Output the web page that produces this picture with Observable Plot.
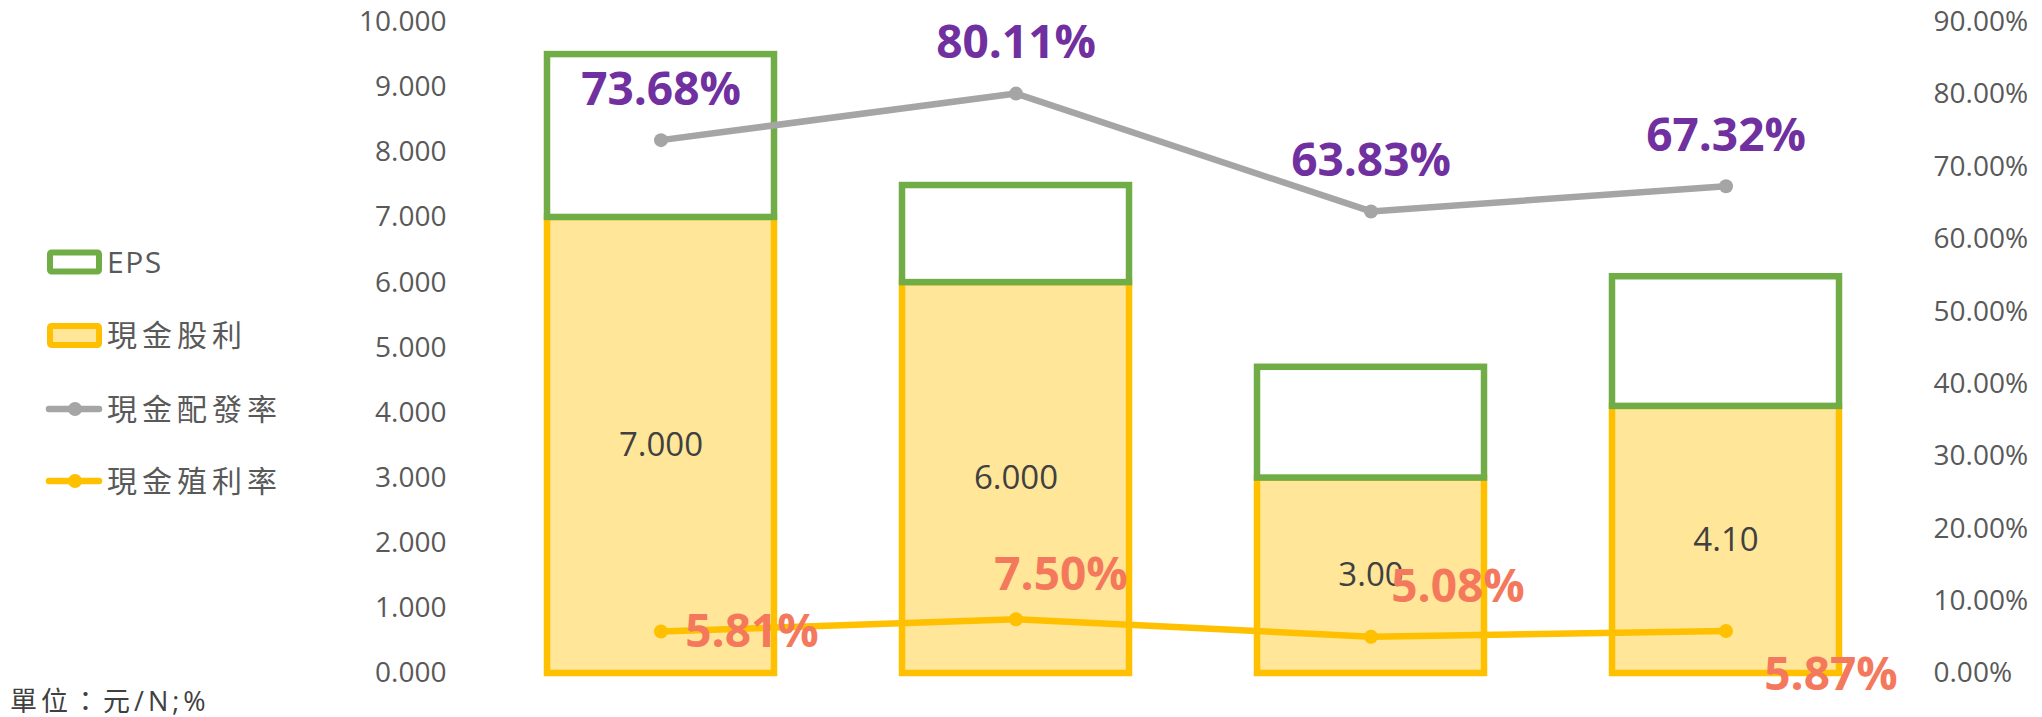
<!DOCTYPE html>
<html>
<head>
<meta charset="utf-8">
<script src="https://cdn.jsdelivr.net/npm/d3@7"></script>
<script src="https://cdn.jsdelivr.net/npm/@observablehq/plot@0.6"></script>
<style>
  html, body { margin: 0; padding: 0; background: #fff; }
  #wrap { position: relative; width: 2042px; height: 717px; overflow: hidden;
          font-family: "Open Sans", "Noto Sans CJK TC", sans-serif; }
  #legend { position: absolute; left: 0; top: 0; }
  #unit { position: absolute; left: 10px; top: 686px; font-size: 27px; line-height: 30px;
          color: #404040; letter-spacing: 4px; white-space: nowrap; }
</style>
</head>
<body>
<div id="wrap"></div>
<script>
// ---- data ----
const periods = ["第1期", "第2期", "第3期", "第4期"];
const eps = [9.50, 7.49, 4.70, 6.09];
const cashDividend = [7.0, 6.0, 3.0, 4.1];
const dividendLabels = ["7.000", "6.000", "3.00", "4.10"];
const payoutRatio = [73.68, 80.11, 63.83, 67.32];
const yieldRate = [5.81, 7.50, 5.08, 5.87];
const leftTicks = [0, 1, 2, 3, 4, 5, 6, 7, 8, 9, 10];
const rightTicks = [0, 10, 20, 30, 40, 50, 60, 70, 80, 90];
const legendLabels = ["EPS", "現金股利", "現金配發率", "現金殖利率"];
const unitCaption = "單位：元/N;%";

// ---- layout (not data) ----
const yieldLabelOffsets = [[91, 1], [45, -44], [87, -49], [105, 44]];
const FONT = '"Open Sans", "Noto Sans CJK TC", sans-serif';
const k = leftTicks[leftTicks.length - 1] / rightTicks[rightTicks.length - 1]; // % -> left units

const table = periods.map((p, i) => ({
  period: p, eps: eps[i], div: cashDividend[i], divLabel: dividendLabels[i],
  payout: payoutRatio[i], yield: yieldRate[i]
}));

const yieldLabelMarks = table.map((d, i) => Plot.text([d], {
  x: "period", y: r => r.yield * k, text: r => r.yield.toFixed(2) + "%",
  dx: yieldLabelOffsets[i][0], dy: yieldLabelOffsets[i][1],
  fontSize: 46, fontWeight: "bold", fill: "#F4795C", fontFamily: FONT
}));

const chart = Plot.plot({
  width: 2042, height: 717,
  marginLeft: 418, marginRight: 74, marginTop: 21.5, marginBottom: 44,
  x: {domain: periods, padding: 0.361, axis: null},
  y: {domain: [0, 10], axis: null},
  style: {fontFamily: FONT, fontSize: "28px", color: "#595959", background: "#fff", overflow: "visible"},
  marks: [
    Plot.axisY(leftTicks, {anchor: "left", tickSize: 0, tickPadding: 0, dx: 28,
      tickFormat: d3.format(".3f"), fontSize: 28, fill: "#595959"}),
    Plot.axisY(rightTicks.map(v => v * k), {anchor: "right", tickSize: 0, tickPadding: 0, dx: -35,
      tickFormat: v => (v / k).toFixed(2) + "%", fontSize: 28, fill: "#595959"}),
    Plot.barY(table, {x: "period", y1: 0, y2: "div", fill: "#FFE699", stroke: "#FFC000", strokeWidth: 6.5}),
    Plot.barY(table, {x: "period", y1: "div", y2: "eps", fill: "#fff", stroke: "#70AD47", strokeWidth: 6.5}),
    Plot.text(table, {x: "period", y: d => d.div / 2, text: "divLabel", fontSize: 33, fill: "#404040", fontFamily: FONT}),
    Plot.line(table, {x: "period", y: d => d.payout * k, stroke: "#A5A5A5", strokeWidth: 6.5}),
    Plot.dot(table, {x: "period", y: d => d.payout * k, r: 7, fill: "#A5A5A5"}),
    Plot.line(table, {x: "period", y: d => d.yield * k, stroke: "#FFC000", strokeWidth: 6.5}),
    Plot.dot(table, {x: "period", y: d => d.yield * k, r: 7, fill: "#FFC000"}),
    Plot.text(table, {x: "period", y: d => d.payout * k, text: d => d.payout.toFixed(2) + "%",
      dy: -50, fontSize: 46, fontWeight: "bold", fill: "#7030A0", fontFamily: FONT}),
    ...yieldLabelMarks
  ]
});

const wrap = document.getElementById("wrap");
wrap.appendChild(chart);

// ---- legend ----
const ns = "http://www.w3.org/2000/svg";
const lg = document.createElementNS(ns, "svg");
lg.setAttribute("id", "legend");
lg.setAttribute("width", 300);
lg.setAttribute("height", 717);
const rowsY = [262, 335.5, 409, 481];
const swatches = [
  {type: "rect", stroke: "#70AD47", fill: "#fff"},
  {type: "rect", stroke: "#FFC000", fill: "#FFE699"},
  {type: "line", stroke: "#A5A5A5"},
  {type: "line", stroke: "#FFC000"}
];
legendLabels.forEach((label, i) => {
  const cy = rowsY[i], s = swatches[i];
  if (s.type === "rect") {
    const r = document.createElementNS(ns, "rect");
    r.setAttribute("x", 50); r.setAttribute("y", cy - 9.5);
    r.setAttribute("width", 49); r.setAttribute("height", 19);
    r.setAttribute("fill", s.fill); r.setAttribute("stroke", s.stroke); r.setAttribute("stroke-width", 6);
    r.setAttribute("rx", 1.5);
    lg.appendChild(r);
  } else {
    const l = document.createElementNS(ns, "line");
    l.setAttribute("x1", 49); l.setAttribute("x2", 99); l.setAttribute("y1", cy); l.setAttribute("y2", cy);
    l.setAttribute("stroke", s.stroke); l.setAttribute("stroke-width", 6.5); l.setAttribute("stroke-linecap", "round");
    lg.appendChild(l);
    const c = document.createElementNS(ns, "circle");
    c.setAttribute("cx", 75); c.setAttribute("cy", cy); c.setAttribute("r", 7); c.setAttribute("fill", s.stroke);
    lg.appendChild(c);
  }
  const t = document.createElementNS(ns, "text");
  t.setAttribute("x", 107); t.setAttribute("y", cy);
  t.setAttribute("dy", "0.36em");
  t.setAttribute("font-size", 30);
  t.setAttribute("letter-spacing", i === 0 ? 1.5 : 5);
  t.setAttribute("fill", "#595959");
  t.setAttribute("font-family", FONT);
  t.textContent = label;
  lg.appendChild(t);
});
wrap.appendChild(lg);

const unit = document.createElement("div");
unit.id = "unit";
unit.textContent = unitCaption;
wrap.appendChild(unit);
</script>
</body>
</html>
